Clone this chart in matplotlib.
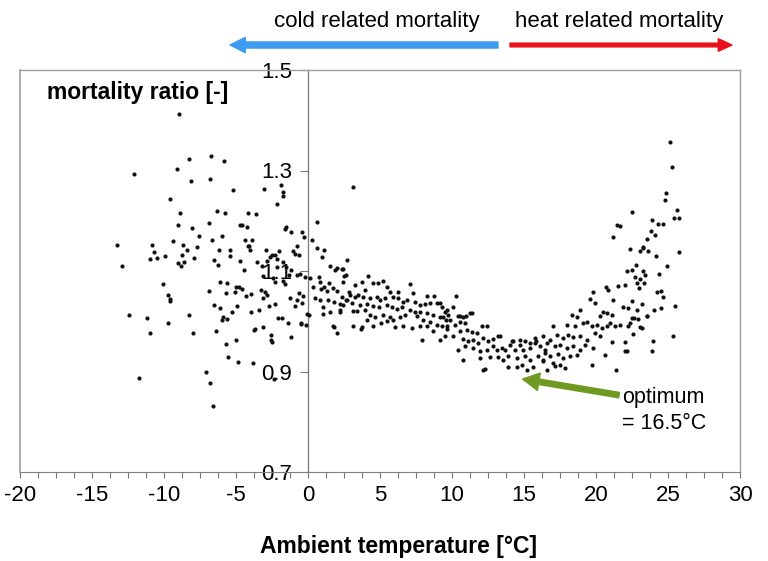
import numpy as np
import matplotlib
matplotlib.use("Agg")
import matplotlib.pyplot as plt
from matplotlib.ticker import MultipleLocator

plt.rcParams['font.family'] = ['Liberation Sans', 'DejaVu Sans']
plt.rcParams['axes.unicode_minus'] = False

# (ambient temperature [degC], mortality ratio [-])
cold_pts = [
    (-8.94, 1.413), (-12.08, 1.293), (-8.26, 1.323), (-6.76, 1.328), (-5.83, 1.318),
    (-9.1, 1.302), (-8.1, 1.279), (-6.8, 1.284), (-5.2, 1.262), (-9.6, 1.243),
    (-8.9, 1.215), (-6.3, 1.220), (-5.76, 1.216), (-4.2, 1.215), (-9.03, 1.192),
    (-8.08, 1.186), (-6.9, 1.196), (-4.75, 1.191), (-4.6, 1.191), (-4.26, 1.187),
    (-13.24, 1.152), (-10.8, 1.152), (-9.35, 1.159), (-8.68, 1.152), (-7.55, 1.169),
    (-6.69, 1.161), (-5.95, 1.169), (-4.4, 1.161), (-10.7, 1.138), (-9.95, 1.129),
    (-11.0, 1.124), (-10.5, 1.126), (-8.43, 1.142), (-8.75, 1.132), (-7.69, 1.148),
    (-6.18, 1.141), (-5.4, 1.142), (-5.4, 1.130), (-7.93, 1.126), (-9.0, 1.116),
    (-8.6, 1.118), (-8.82, 1.109), (-6.5, 1.122), (-6.25, 1.111), (-12.9, 1.109),
    (-4.7, 1.120), (-4.47, 1.102), (-4.14, 1.149), (-6.1, 1.078), (-5.65, 1.077),
    (-10.1, 1.074), (-6.88, 1.061), (-9.72, 1.053), (-9.6, 1.044), (-9.55, 1.040),
    (-5.7, 1.056), (-5.0, 1.068), (-4.8, 1.068), (-5.1, 1.058), (-4.56, 1.064),
    (-4.33, 1.051), (-6.55, 1.033), (-6.13, 1.027), (-4.9, 1.031), (-5.28, 1.019),
    (-5.93, 1.009), (-5.6, 1.005), (-5.96, 1.003), (-12.4, 1.013), (-11.18, 1.007),
    (-8.26, 1.013), (-9.74, 0.996), (-11.0, 0.976), (-8.0, 0.976), (-6.4, 0.980),
    (-4.98, 0.963), (-5.7, 0.954), (-5.53, 0.928), (-4.86, 0.919), (-7.08, 0.899),
    (-6.8, 0.877), (-11.76, 0.887), (-6.6, 0.831),
    (-3.06, 1.263), (-1.9, 1.272), (-1.76, 1.257), (-1.76, 1.250), (-2.17, 1.234),
    (-3.63, 1.214), (-1.53, 1.187), (-1.6, 1.184), (-1.18, 1.177), (-0.44, 1.178),
    (-0.3, 1.168), (-3.9, 1.162), (-4.12, 1.150), (-4.03, 1.142), (-2.92, 1.142),
    (-2.48, 1.132), (-2.64, 1.128), (-2.31, 1.131), (-1.99, 1.139), (-2.13, 1.124),
    (-1.02, 1.139), (-0.9, 1.134), (-0.79, 1.149), (-0.6, 1.132), (-3.57, 1.118),
    (-3.17, 1.109), (-2.87, 1.119), (-2.13, 1.107), (-1.76, 1.118), (-1.53, 1.108),
    (-1.2, 1.102), (-1.32, 1.093), (-0.79, 1.092), (-0.56, 1.094), (-0.19, 1.088),
    (-3.12, 1.090), (-2.41, 1.086), (-1.71, 1.081), (-1.6, 1.075), (-2.29, 1.078),
    (-3.28, 1.063), (-3.01, 1.058), (-2.83, 1.053), (-3.1, 1.046), (-3.93, 1.054),
    (-1.25, 1.047), (-0.79, 1.043), (-0.6, 1.057), (-0.33, 1.051), (-0.44, 1.036),
    (-2.69, 1.031), (-2.29, 1.035), (-3.4, 1.023), (-3.93, 1.019), (-0.9, 1.031),
    (-0.09, 1.015), (-0.14, 0.993), (-0.49, 0.996), (-2.06, 1.006), (-1.8, 1.006),
    (-1.36, 0.997), (-3.7, 0.984), (-3.1, 0.989), (-2.59, 0.972), (-2.57, 0.963),
    (-2.5, 0.958), (-1.18, 0.969), (-3.8, 0.917), (-2.34, 0.885), (-3.73, 0.983),
    (-0.51, 0.995),
]

mild_pts = [
    (0.6, 1.197), (0.28, 1.161), (0.65, 1.146), (1.11, 1.142), (0.99, 1.127),
    (0.14, 1.086), (0.09, 1.013), (0.32, 1.069), (0.79, 1.089), (0.83, 1.079),
    (0.93, 1.064), (1.11, 1.069), (1.34, 1.061), (1.44, 1.076), (1.76, 1.066),
    (2.03, 1.061), (2.36, 1.048), (2.64, 1.043), (2.87, 1.059), (0.49, 1.046),
    (0.83, 1.043), (1.06, 1.029), (1.39, 1.043), (1.81, 1.039), (2.22, 1.034),
    (1.06, 1.015), (1.53, 1.018), (2.22, 1.018), (1.83, 0.988), (2.0, 0.976),
    (1.53, 1.110), (2.0, 1.106), (2.64, 1.092), (2.73, 1.122), (3.15, 1.267),
    (2.41, 1.104), (2.5, 1.090), (2.41, 1.079), (4.19, 1.090), (3.26, 1.073),
    (3.73, 1.078), (4.54, 1.076), (4.88, 1.076), (5.23, 1.081), (7.08, 1.075),
    (3.96, 1.063), (5.47, 1.068), (5.69, 1.059), (6.27, 1.059), (7.27, 1.056),
    (8.24, 1.051), (8.75, 1.051), (2.92, 1.053), (3.26, 1.049), (3.5, 1.053),
    (3.84, 1.049), (4.31, 1.046), (4.77, 1.049), (5.0, 1.043), (5.35, 1.046),
    (5.92, 1.049), (6.27, 1.046), (6.62, 1.039), (6.85, 1.043), (7.43, 1.039),
    (7.78, 1.033), (8.13, 1.035), (8.47, 1.036), (8.94, 1.036), (9.28, 1.028),
    (2.69, 1.043), (2.45, 1.033), (3.03, 1.036), (3.61, 1.033), (4.07, 1.035),
    (4.54, 1.031), (4.95, 1.028), (5.47, 1.033), (5.81, 1.028), (6.16, 1.024),
    (6.5, 1.028), (7.08, 1.023), (7.43, 1.019), (7.78, 1.019), (8.24, 1.016),
    (8.7, 1.013), (9.17, 1.008), (9.58, 1.003), (2.22, 1.023), (3.15, 1.021),
    (3.38, 1.021), (3.96, 1.023), (4.31, 1.013), (4.65, 1.008), (5.23, 1.013),
    (5.69, 1.008), (5.92, 1.003), (6.39, 1.008), (6.74, 1.013), (7.55, 1.010),
    (8.01, 1.003), (8.47, 0.998), (8.94, 0.993), (9.28, 0.990), (9.63, 0.984),
    (4.07, 1.003), (5.05, 0.997), (5.47, 1.000), (7.2, 0.986), (7.78, 0.990),
    (8.24, 0.991), (8.7, 0.980), (3.15, 0.990), (3.73, 0.988), (3.66, 0.984),
    (7.89, 0.963), (9.17, 0.963), (9.51, 0.971), (6.04, 0.988), (6.62, 0.991),
    (4.54, 0.990), (10.28, 1.051), (9.51, 1.019), (9.75, 1.013), (9.35, 1.008),
    (9.86, 1.003), (10.44, 1.010), (10.74, 1.008), (11.25, 1.016), (10.58, 0.998),
    (10.9, 0.997), (10.21, 0.993), (9.63, 0.990), (10.56, 0.980), (11.02, 0.983),
    (11.37, 0.978), (11.72, 0.976), (12.06, 0.990), (12.41, 0.991), (10.09, 0.970),
    (10.79, 0.964), (11.13, 0.960), (11.48, 0.963), (11.83, 0.956), (12.17, 0.966),
    (12.52, 0.960), (12.87, 0.964), (13.22, 0.970), (10.44, 0.943), (10.9, 0.950),
    (11.48, 0.947), (11.94, 0.940), (12.41, 0.942), (12.87, 0.950), (13.1, 0.943),
    (13.45, 0.947), (13.68, 0.942), (14.03, 0.953), (14.15, 0.960), (14.38, 0.943),
    (14.72, 0.953), (14.95, 0.942), (15.42, 0.947), (15.76, 0.956), (16.11, 0.950),
    (16.46, 0.943), (10.79, 0.923), (11.94, 0.926), (12.64, 0.928), (13.22, 0.928),
    (13.56, 0.923), (13.91, 0.931), (14.49, 0.926), (15.07, 0.930), (15.42, 0.923),
    (16.0, 0.930), (16.34, 0.923), (12.29, 0.905), (13.91, 0.909), (14.49, 0.909),
    (14.84, 0.913), (15.23, 0.903), (15.6, 0.909), (15.86, 0.960), (15.07, 0.960),
    (1.88, 1.102), (2.34, 1.104), (1.76, 0.990), (12.17, 0.903), (13.33, 0.970),
    (14.26, 0.960), (14.72, 0.963), (15.42, 0.956), (15.76, 0.966), (11.0, 1.010),
    (11.37, 1.016), (9.63, 1.023), (10.09, 1.029), (10.56, 1.010), (9.17, 1.036),
]

warm_pts = [
    (22.48, 1.217), (21.48, 1.191), (21.67, 1.189), (21.16, 1.167), (22.36, 1.144),
    (23.06, 1.139), (23.29, 1.146), (22.78, 1.112), (22.13, 1.100), (22.48, 1.102),
    (22.71, 1.089), (23.06, 1.084), (23.29, 1.100), (21.55, 1.071), (22.01, 1.073),
    (20.69, 1.068), (20.86, 1.063), (19.81, 1.059), (19.58, 1.044), (19.93, 1.036),
    (18.89, 1.023), (21.2, 1.042), (21.85, 1.028), (22.24, 1.026), (22.48, 1.041),
    (22.83, 1.023), (23.52, 1.010), (20.51, 1.019), (20.74, 1.016), (21.08, 1.013),
    (18.31, 1.013), (18.66, 1.008), (20.28, 1.010), (19.12, 0.997), (19.35, 0.998),
    (19.7, 0.990), (20.05, 0.993), (20.4, 0.986), (20.74, 0.990), (20.97, 0.997),
    (21.32, 0.990), (21.67, 0.993), (22.24, 0.990), (22.48, 1.006), (23.06, 0.988),
    (17.04, 0.990), (17.97, 0.993), (18.54, 0.991), (16.34, 0.970), (16.81, 0.963),
    (17.27, 0.973), (17.73, 0.966), (18.08, 0.973), (18.43, 0.968), (18.89, 0.971),
    (19.35, 0.963), (19.93, 0.976), (20.28, 0.970), (21.08, 0.958), (22.01, 0.958),
    (22.13, 0.940), (20.63, 0.933), (16.57, 0.956), (17.15, 0.950), (17.5, 0.953),
    (17.97, 0.947), (18.43, 0.950), (18.89, 0.943), (19.24, 0.953), (19.81, 0.947),
    (16.46, 0.937), (16.81, 0.930), (17.38, 0.935), (17.73, 0.926), (18.19, 0.930),
    (18.66, 0.933), (16.34, 0.920), (17.04, 0.917), (17.5, 0.913), (16.57, 0.903),
    (17.15, 0.910), (17.85, 0.907), (19.7, 0.913), (21.39, 0.903), (25.14, 1.357),
    (25.26, 1.307), (24.86, 1.255), (24.77, 1.242), (25.6, 1.221), (25.42, 1.205),
    (25.79, 1.205), (23.86, 1.201), (24.33, 1.194), (24.63, 1.193), (23.8, 1.180),
    (24.1, 1.172), (23.52, 1.164), (25.79, 1.138), (23.24, 1.147), (23.63, 1.139),
    (24.17, 1.130), (24.95, 1.109), (23.4, 1.092), (24.4, 1.094), (22.87, 1.076),
    (23.0, 1.066), (23.3, 1.076), (24.21, 1.058), (24.49, 1.061), (24.63, 1.048),
    (25.49, 1.031), (23.17, 1.034), (24.03, 1.023), (24.51, 1.026), (22.64, 1.006),
    (22.94, 1.004), (23.56, 1.010), (22.36, 0.997), (23.17, 0.986), (22.59, 0.975),
    (25.33, 0.971), (23.98, 0.960), (23.86, 0.940), (22.01, 0.940),
]

optimum_temp = 16.5
x_ticks = [-20, -15, -10, -5, 0, 5, 10, 15, 20, 25, 30]
y_ticks = [0.7, 0.9, 1.1, 1.3, 1.5]

pts = np.array(cold_pts + mild_pts + warm_pts)

fig = plt.figure(figsize=(7.68, 5.61), dpi=100)
ax = fig.add_axes([20 / 768, 1 - 472 / 561, 720 / 768, 402 / 561])

ax.scatter(pts[:, 0], pts[:, 1], s=9, color='#111111', linewidths=0, zorder=3)

ax.set_xlim(-20, 30)
ax.set_ylim(0.7, 1.5)

grey = '#a0a0a0'
ax.spines['left'].set_position(('data', 0))
for side in ['left', 'top', 'right']:
    ax.spines[side].set_color(grey)
    ax.spines[side].set_linewidth(1.0)
ax.spines['bottom'].set_color('#808080')
ax.spines['left'].set_color('#808080')
# outer frame on the left
ax.plot([0, 0], [0, 1], transform=ax.transAxes, color=grey, lw=1.2, clip_on=False)

ax.set_xticks(x_ticks)
ax.xaxis.set_minor_locator(MultipleLocator(1.25))
ax.tick_params(axis='x', which='both', direction='out', length=4.5, width=0.8,
               color='#777777', labelsize=16, pad=5)
ax.set_yticks(y_ticks)
ax.set_yticklabels([f"{v:.1f}" for v in y_ticks])
ax.tick_params(axis='y', direction='out', length=5.5, width=0.8, color='#777777',
               labelsize=16, pad=6)
ax.tick_params(top=False, right=False)

fig.text(399 / 768, 1 - 546 / 561, "Ambient temperature [°C]", fontsize=16.5,
         fontweight='bold', ha='center', va='center')
fig.text(47 / 768, 1 - 92 / 561, "mortality ratio [-]",
         fontsize=16.5, fontweight='bold', va='center', ha='left')

# optimum annotation
green = '#6f9a22'
ax.annotate('', xy=(14.9, 0.885), xytext=(21.6, 0.853),
            arrowprops=dict(arrowstyle='simple,head_width=0.9,head_length=0.85,tail_width=0.28',
                            color=green, mutation_scale=14, shrinkA=0, shrinkB=0))
ax.text(21.8, 0.849, "optimum", fontsize=15.5, va='center', ha='left')
ax.text(21.8, 0.797, f"= {optimum_temp}°C", fontsize=15.5, va='center', ha='left')

# cold / heat arrows above the plot
ax.annotate('', xy=(230 / 768, 1 - 45 / 561), xytext=(498 / 768, 1 - 45 / 561),
            xycoords='figure fraction', textcoords='figure fraction',
            arrowprops=dict(arrowstyle='simple,head_width=1.0,head_length=1.0,tail_width=0.4',
                            color='#3d9bf0', mutation_scale=11, shrinkA=0, shrinkB=0))
ax.annotate('', xy=(732 / 768, 1 - 45 / 561), xytext=(510 / 768, 1 - 45 / 561),
            xycoords='figure fraction', textcoords='figure fraction',
            arrowprops=dict(arrowstyle='simple,head_width=1.0,head_length=1.1,tail_width=0.3',
                            color='#e8101a', mutation_scale=9, shrinkA=0, shrinkB=0))
fig.text(377 / 768, 1 - 22 / 561, "cold related mortality", fontsize=16,
         ha='center', va='center')
fig.text(619 / 768, 1 - 22 / 561, "heat related mortality", fontsize=16,
         ha='center', va='center')

fig.savefig("out.png", dpi=100)
